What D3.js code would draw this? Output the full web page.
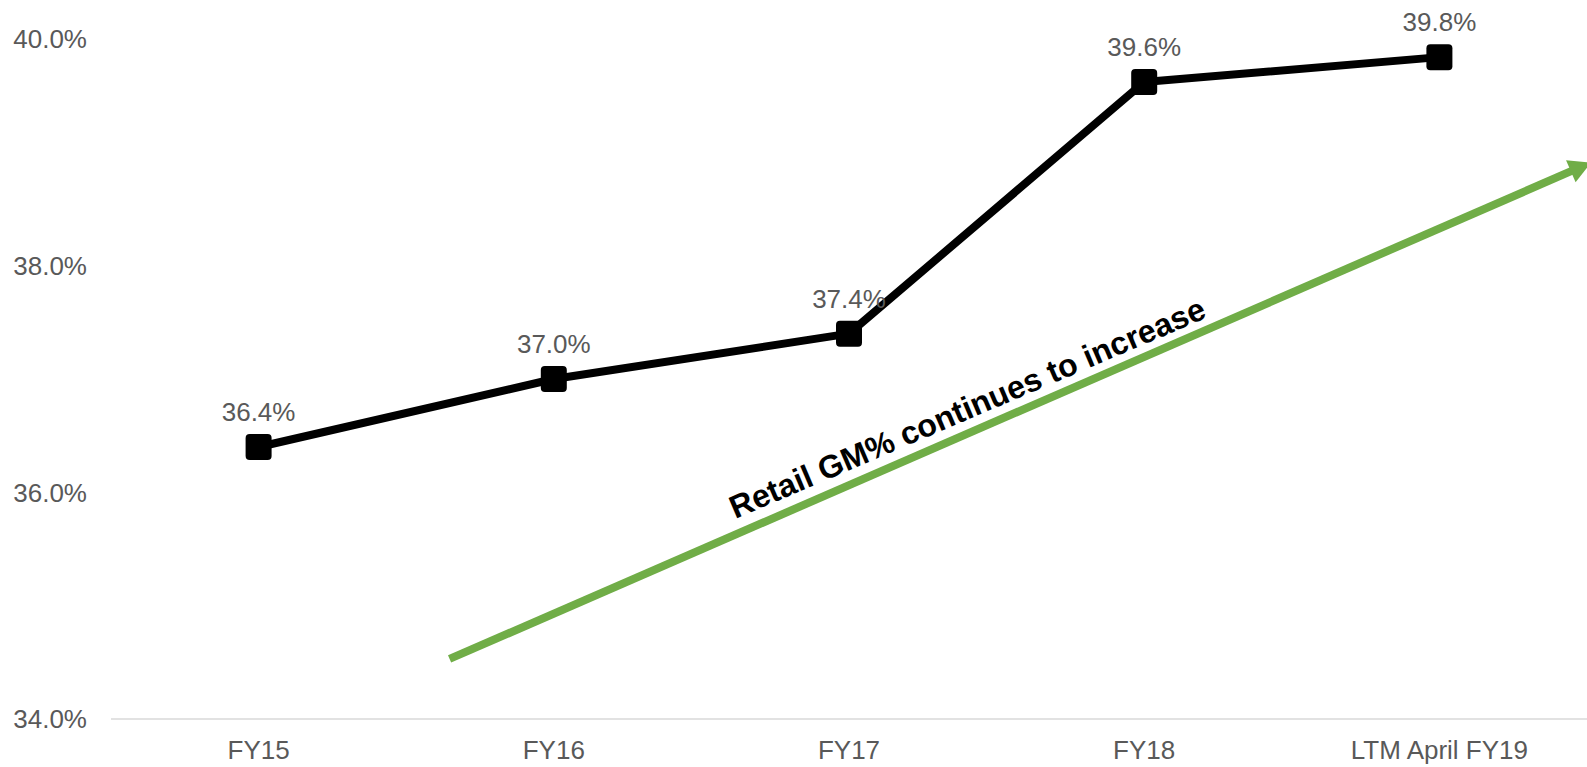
<!DOCTYPE html>
<html>
<head>
<meta charset="utf-8">
<script src="https://cdn.jsdelivr.net/npm/d3@7"></script>
<style>
  html, body { margin: 0; padding: 0; background: #fff; }
  svg { display: block; font-family: "Liberation Sans", Arial, sans-serif; }
</style>
</head>
<body>
<div id="vis"></div>
<script>
const width = 1587
const height = 767
const margin = { top: 39, right: 0, bottom: 48, left: 111 }

// data
const categories = ["FY15", "FY16", "FY17", "FY18", "LTM April FY19"]
const gmValues = [36.4, 37.0, 37.4, 39.62, 39.84]
const gmLabels = ["36.4%", "37.0%", "37.4%", "39.6%", "39.8%"]
const yTicks = [34, 36, 38, 40]
const trendText = "Retail GM% continues to increase"

const svg = d3.select("#vis")
  .append("svg")
  .attr("width", width)
  .attr("height", height)

const x = d3.scalePoint()
  .domain(categories)
  .range([margin.left, width - margin.right])
  .padding(0.5)

const y = d3.scaleLinear()
  .domain([34, 40])
  .range([height - margin.bottom, margin.top])

// fractional category position, for the trend arrow
const xAt = i => x(categories[0]) + i * x.step()

// baseline
svg.append("line")
  .attr("x1", margin.left).attr("x2", width)
  .attr("y1", y(34)).attr("y2", y(34))
  .attr("stroke", "#d9d9d9")
  .attr("stroke-width", 1.5)

// y tick labels
svg.append("g")
  .selectAll("text")
  .data(yTicks)
  .join("text")
  .attr("x", 87)
  .attr("y", d => y(d))
  .attr("dy", "0.36em")
  .attr("text-anchor", "end")
  .attr("font-size", "26px")
  .attr("fill", "#595959")
  .text(d => d3.format(".1f")(d) + "%")

// x labels
svg.append("g")
  .selectAll("text")
  .data(categories)
  .join("text")
  .attr("x", d => x(d))
  .attr("y", 759)
  .attr("text-anchor", "middle")
  .attr("font-size", "26px")
  .attr("fill", "#595959")
  .text(d => d)

// green trend arrow
const arrowStart = [xAt(0.647), y(34.53)]
const arrowEnd = [xAt(4.5) + 4, y(38.91)]
const ang = Math.atan2(arrowEnd[1] - arrowStart[1], arrowEnd[0] - arrowStart[0])
const headLen = 22, headW = 12
const lineEnd = [arrowEnd[0] - headLen * Math.cos(ang) * 0.9, arrowEnd[1] - headLen * Math.sin(ang) * 0.9]
svg.append("line")
  .attr("x1", arrowStart[0]).attr("y1", arrowStart[1])
  .attr("x2", lineEnd[0]).attr("y2", lineEnd[1])
  .attr("stroke", "#70ad47")
  .attr("stroke-width", 8)

const bx = arrowEnd[0] - headLen * Math.cos(ang)
const by = arrowEnd[1] - headLen * Math.sin(ang)
svg.append("path")
  .attr("d", d3.line()([
    arrowEnd,
    [bx - headW * Math.sin(ang), by + headW * Math.cos(ang)],
    [bx + headW * Math.sin(ang), by - headW * Math.cos(ang)]
  ]) + "Z")
  .attr("fill", "#70ad47")

// annotation text
svg.append("text")
  .attr("transform", `translate(${xAt(2.415)},${y(36.655)}) rotate(${ang * 180 / Math.PI + 0.4})`)
  .attr("text-anchor", "middle")
  .attr("font-size", "32px")
  .attr("font-weight", "bold")
  .attr("fill", "#000")
  .text(trendText)

// series line
const line = d3.line()
  .x((d, i) => x(categories[i]))
  .y(d => y(d))

svg.append("path")
  .datum(gmValues)
  .attr("d", line)
  .attr("fill", "none")
  .attr("stroke", "#000")
  .attr("stroke-width", 8)
  .attr("stroke-linejoin", "round")

svg.append("g")
  .selectAll("rect")
  .data(gmValues)
  .join("rect")
  .attr("x", (d, i) => x(categories[i]) - 13)
  .attr("y", d => y(d) - 13)
  .attr("width", 26)
  .attr("height", 26)
  .attr("rx", 4)
  .attr("fill", "#000")

svg.append("g")
  .selectAll("text")
  .data(gmValues)
  .join("text")
  .attr("x", (d, i) => x(categories[i]))
  .attr("y", d => y(d) - 26)
  .attr("text-anchor", "middle")
  .attr("font-size", "26px")
  .attr("fill", "#595959")
  .text((d, i) => gmLabels[i])
</script>
</body>
</html>
